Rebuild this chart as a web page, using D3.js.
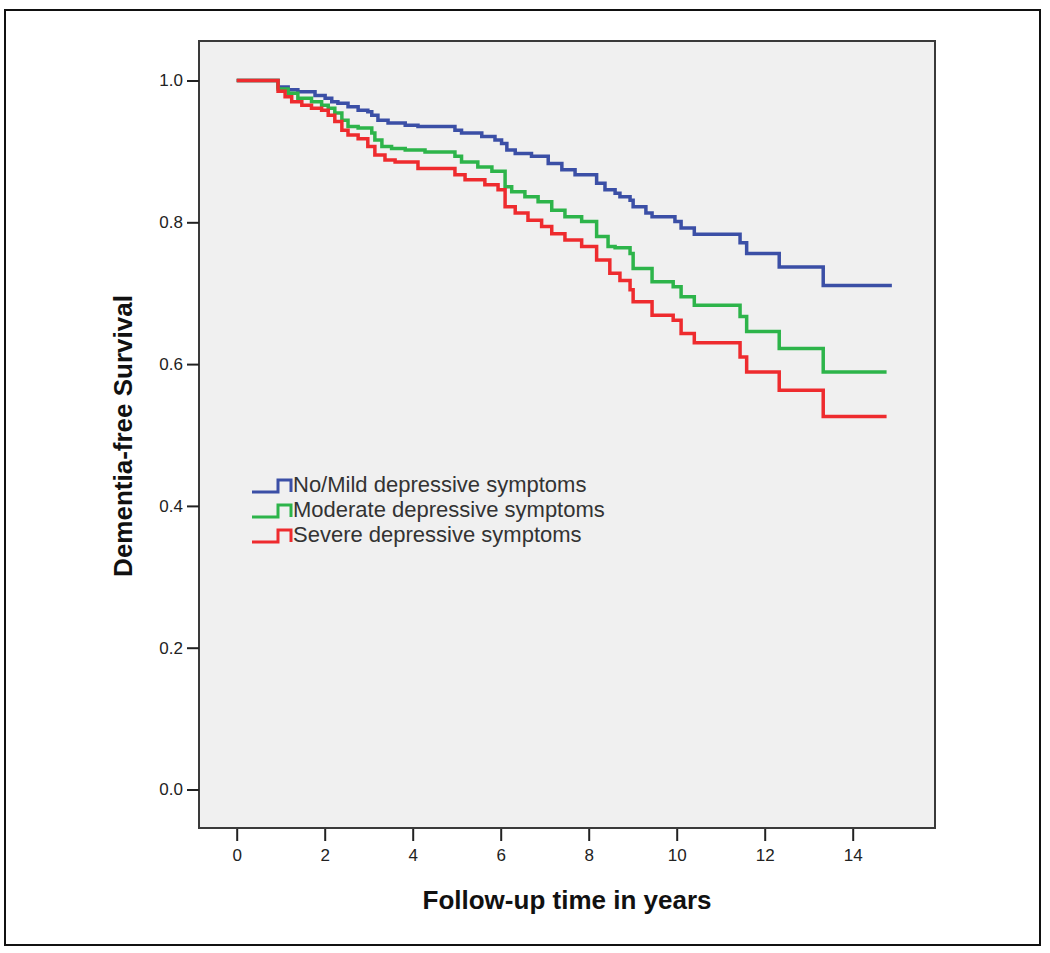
<!DOCTYPE html>
<html>
<head>
<meta charset="utf-8">
<script src="https://cdn.jsdelivr.net/npm/d3@7"></script>
<style>
  html, body { margin: 0; padding: 0; background: #ffffff; }
  svg { display: block; }
  text { font-family: "Liberation Sans", Arial, sans-serif; }
</style>
</head>
<body>
<svg id="chart" width="1050" height="953"></svg>
<script>
// ---- Data (Kaplan-Meier steps: time of step, survival after step) ----
const seriesNames = ["No/Mild depressive symptoms", "Moderate depressive symptoms", "Severe depressive symptoms"];
const seriesColors = ["#3b4fa6", "#2db44a", "#ee2b2e"];

const blueTimes = [0, 0.94, 1.17, 1.39, 1.78, 2.01, 2.16, 2.30, 2.53, 2.76, 2.98, 3.07, 3.21, 3.44, 3.83, 4.12, 4.96, 5.11, 5.57, 5.87, 6.02, 6.14, 6.33, 6.70, 7.08, 7.39, 7.69, 8.18, 8.37, 8.60, 8.71, 8.94, 9.01, 9.30, 9.44, 9.96, 10.10, 10.40, 11.44, 11.59, 12.33, 13.33, 14.89];
const blueSurv  = [1.0, 0.991, 0.987, 0.984, 0.979, 0.975, 0.970, 0.968, 0.963, 0.958, 0.956, 0.951, 0.944, 0.940, 0.937, 0.935, 0.930, 0.926, 0.921, 0.916, 0.911, 0.902, 0.897, 0.893, 0.883, 0.874, 0.867, 0.855, 0.846, 0.841, 0.836, 0.831, 0.822, 0.813, 0.808, 0.801, 0.792, 0.783, 0.771, 0.756, 0.737, 0.711, 0.711];

const greenTimes = [0, 0.94, 1.17, 1.39, 1.70, 1.93, 2.08, 2.23, 2.39, 2.53, 2.76, 3.07, 3.14, 3.30, 3.52, 3.83, 4.28, 4.96, 5.11, 5.48, 5.80, 6.10, 6.25, 6.55, 6.85, 7.16, 7.46, 7.84, 8.18, 8.44, 8.60, 8.94, 9.01, 9.44, 9.92, 10.10, 10.40, 11.44, 11.59, 12.33, 13.33, 14.77];
const greenSurv  = [1.0, 0.988, 0.982, 0.975, 0.970, 0.965, 0.961, 0.954, 0.944, 0.935, 0.933, 0.926, 0.916, 0.907, 0.904, 0.902, 0.899, 0.893, 0.885, 0.878, 0.872, 0.850, 0.843, 0.836, 0.829, 0.817, 0.808, 0.801, 0.780, 0.766, 0.764, 0.756, 0.735, 0.716, 0.709, 0.695, 0.683, 0.667, 0.646, 0.622, 0.589, 0.589];

const redTimes = [0, 0.94, 1.10, 1.25, 1.48, 1.70, 1.93, 2.08, 2.23, 2.39, 2.53, 2.76, 2.98, 3.14, 3.37, 3.60, 4.12, 4.96, 5.19, 5.64, 5.94, 6.10, 6.33, 6.62, 6.93, 7.16, 7.46, 7.84, 8.18, 8.48, 8.71, 8.94, 9.01, 9.44, 9.92, 10.10, 10.40, 11.44, 11.59, 12.33, 13.33, 14.77];
const redSurv  = [1.0, 0.985, 0.977, 0.970, 0.965, 0.961, 0.958, 0.951, 0.942, 0.930, 0.923, 0.918, 0.907, 0.895, 0.888, 0.885, 0.876, 0.867, 0.860, 0.853, 0.846, 0.822, 0.813, 0.803, 0.794, 0.784, 0.775, 0.766, 0.747, 0.728, 0.718, 0.705, 0.688, 0.669, 0.662, 0.643, 0.630, 0.610, 0.589, 0.563, 0.526, 0.526];

const xTicks = [0, 2, 4, 6, 8, 10, 12, 14];
const yTicks = [0.0, 0.2, 0.4, 0.6, 0.8, 1.0];
const xTitle = "Follow-up time in years";
const yTitle = "Dementia-free Survival";

// ---- Layout ----
const svg = d3.select("#chart");
const frame = { left: 199, top: 41, right: 935, bottom: 828 };

const x = d3.scaleLinear().domain([0, 14]).range([236.7, 852.7]);
const y = d3.scaleLinear().domain([0, 1]).range([789.5, 80.5]);

// outer border
svg.append("rect")
  .attr("x", 5).attr("y", 10).attr("width", 1035).attr("height", 935)
  .attr("fill", "none").attr("stroke", "#111").attr("stroke-width", 2);

// plot background
svg.append("rect")
  .attr("x", frame.left).attr("y", frame.top)
  .attr("width", frame.right - frame.left).attr("height", frame.bottom - frame.top)
  .attr("fill", "#f0f0f0").attr("stroke", "#3a3a3a").attr("stroke-width", 2);

// axes
const xAxis = d3.axisBottom(x).tickValues(xTicks).tickFormat(d3.format("d")).tickSize(12).tickPadding(8);
const gx = svg.append("g").attr("transform", `translate(0,${frame.bottom + 1})`).call(xAxis);
gx.select(".domain").remove();
gx.selectAll(".tick line").attr("stroke", "#222").attr("stroke-width", 2);
gx.selectAll(".tick text").attr("font-size", 17).attr("fill", "#222")
  .attr("font-family", '"Liberation Sans", Arial, sans-serif');

const yAxis = d3.axisLeft(y).tickValues(yTicks).tickFormat(d3.format(".1f")).tickSize(12).tickPadding(4);
const gy = svg.append("g").attr("transform", `translate(${frame.left},0)`).call(yAxis);
gy.select(".domain").remove();
gy.selectAll(".tick line").attr("stroke", "#222").attr("stroke-width", 2);
gy.selectAll(".tick text").attr("font-size", 17).attr("fill", "#222")
  .attr("font-family", '"Liberation Sans", Arial, sans-serif');

// titles
svg.append("text")
  .attr("x", 567).attr("y", 909)
  .attr("text-anchor", "middle")
  .attr("font-size", 26).attr("font-weight", "bold").attr("fill", "#111")
  .text(xTitle);

svg.append("text")
  .attr("transform", "translate(132,436) rotate(-90)")
  .attr("text-anchor", "middle")
  .attr("font-size", 26).attr("font-weight", "bold").attr("fill", "#111")
  .text(yTitle);

// curves
const series = [
  { name: seriesNames[0], color: seriesColors[0], t: blueTimes, s: blueSurv },
  { name: seriesNames[1], color: seriesColors[1], t: greenTimes, s: greenSurv },
  { name: seriesNames[2], color: seriesColors[2], t: redTimes, s: redSurv }
];

const line = d3.line()
  .x(d => x(d[0]))
  .y(d => y(d[1]))
  .curve(d3.curveStepAfter);

series.forEach(sr => {
  const pts = sr.t.map((t, i) => [t, sr.s[i]]);
  svg.append("path")
    .datum(pts)
    .attr("d", line)
    .attr("fill", "none")
    .attr("stroke", sr.color)
    .attr("stroke-width", 3.5)
    .attr("stroke-linejoin", "miter");
});

// legend
const legend = svg.append("g").attr("transform", "translate(252,492)");
series.forEach((sr, i) => {
  const g = legend.append("g").attr("transform", `translate(0,${i * 25})`);
  g.append("path")
    .attr("d", "M0,0 H26 V-12 H39 V0")
    .attr("fill", "none").attr("stroke", sr.color).attr("stroke-width", 3);
  g.append("text")
    .attr("x", 41).attr("y", 0)
    .attr("font-size", 22).attr("fill", "#333")
    .text(sr.name);
});
</script>
</body>
</html>
